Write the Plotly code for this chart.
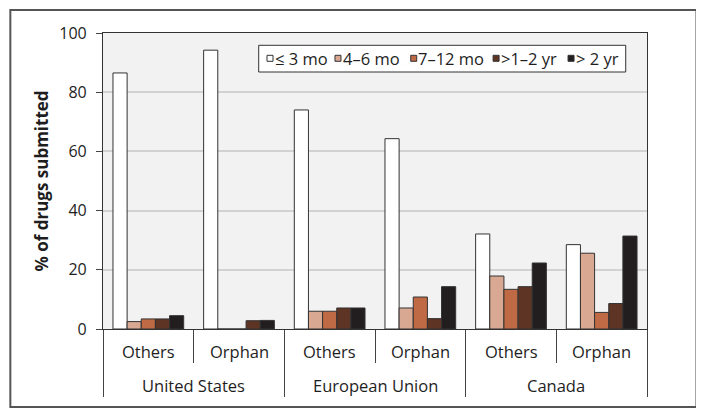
import plotly.graph_objects as go

regions = ["United States", "European Union", "Canada"]
drug_types = ["Others", "Orphan", "Others", "Orphan", "Others", "Orphan"]
x_pos = [0, 1, 2, 3, 4, 5]

series_names = ["≤ 3 mo", "4–6 mo", "7–12 mo", ">1–2 yr", "> 2 yr"]
le_3mo = [86.5, 94.2, 74.0, 64.3, 32.1, 28.5]
m4_6 = [2.5, 0, 6.0, 7.1, 17.9, 25.6]
m7_12 = [3.4, 0, 6.0, 10.8, 13.4, 5.6]
y1_2 = [3.4, 2.8, 7.1, 3.5, 14.3, 8.6]
gt_2yr = [4.5, 2.9, 7.1, 14.3, 22.3, 31.4]
series_values = [le_3mo, m4_6, m7_12, y1_2, gt_2yr]
colors = ["#ffffff", "#d8a893", "#c06a45", "#5e3424", "#221e1f"]

y_ticks = [0, 20, 40, 60, 80, 100]

FONT = "Open Sans"
TXT = "#1e1e1e"
LINE = "#333333"

# page has an 8px body margin; work in page coordinates and convert
OFF = 8
FIG_W, FIG_H = 704 - OFF, 419 - OFF
PL, PR, PT, PB = 102.7, 647, 33, 329  # plot area in page px
L, T = PL - OFF, PT - OFF
R = 704 - PR
B = 419 - PB
W, H = PR - PL, PB - PT


def px(x):
    return (x - PL) / W


def py(y):
    return (PB - y) / H


fig = go.Figure()
for name, vals, col in zip(series_names, series_values, colors):
    fig.add_trace(go.Bar(
        name=name,
        x=x_pos,
        y=vals,
        marker=dict(color=col, line=dict(color=LINE, width=1)),
        showlegend=False,
    ))

shapes = []
annotations = []

# outer frame
shapes.append(dict(type="rect", xref="paper", yref="paper",
                   x0=px(10), x1=px(696.5), y0=py(407), y1=py(10),
                   line=dict(color="#555555", width=2), fillcolor="rgba(0,0,0,0)", layer="above"))

# category labels (inner row)
for xp, lab in zip(x_pos, drug_types):
    annotations.append(dict(x=xp, y=py(351.5), xref="x", yref="paper", text=lab, showarrow=False,
                            xanchor="center", yanchor="middle",
                            font=dict(family=FONT, size=16.5, color=TXT)))
# region labels (outer row)
for i, lab in enumerate(regions):
    annotations.append(dict(x=2 * i + 0.5, y=py(385), xref="x", yref="paper", text=lab, showarrow=False,
                            xanchor="center", yanchor="middle",
                            font=dict(family=FONT, size=16.5, color=TXT)))

# legend (drawn as a boxed row of swatches + labels)
shapes.append(dict(type="rect", xref="paper", yref="paper",
                   x0=px(258.5), x1=px(625.7), y0=py(72), y1=py(45.3),
                   line=dict(color=LINE, width=1), fillcolor="white", layer="above"))
leg_sym_x = [266.8, 334.8, 410.6, 493, 568]
leg_txt_x = [273.6, 341.5, 417, 499.5, 574.8]
SYM = 6
leg_y = 58.3
for sx, tx, name, col in zip(leg_sym_x, leg_txt_x, series_names, colors):
    shapes.append(dict(type="rect", xref="paper", yref="paper",
                       x0=px(sx), x1=px(sx + SYM), y0=py(leg_y + SYM / 2), y1=py(leg_y - SYM / 2),
                       line=dict(color=LINE, width=1), fillcolor=col, layer="above"))
    annotations.append(dict(x=px(tx), y=py(leg_y + 0.5), xref="paper", yref="paper", text=name,
                            showarrow=False, xanchor="left", yanchor="middle", borderpad=0,
                            font=dict(family=FONT, size=16.5, color=TXT)))

fig.update_layout(
    width=FIG_W, height=FIG_H,
    margin=dict(l=L, r=R, t=T, b=B, pad=0),
    paper_bgcolor="white",
    plot_bgcolor="#f2f2f2",
    barmode="group",
    bargap=0.22,
    bargroupgap=0,
    font=dict(family=FONT, size=16, color=TXT),
    showlegend=False,
    shapes=shapes,
    annotations=annotations,
    xaxis=dict(
        range=[-0.5, 5.5],
        tickvals=[-0.5, 1.5, 3.5, 5.5],
        ticktext=["", "", "", ""],
        ticks="outside", ticklen=67, tickwidth=1.2, tickcolor="#444444",
        minor=dict(tickvals=[0.5, 2.5, 4.5], ticks="outside", ticklen=33,
                   tickwidth=1.2, tickcolor="#444444", showgrid=False),
        showline=True, linecolor=LINE, linewidth=1.2, mirror=True,
        showgrid=False, zeroline=False,
    ),
    yaxis=dict(
        range=[0, 100],
        tickvals=y_ticks,
        showline=True, linecolor=LINE, linewidth=1.2, mirror=True,
        ticks="outside", ticklen=6, tickcolor="#444444", tickwidth=1.2,
        ticklabelstandoff=6,
        showgrid=True, gridcolor="#d2d2d2", gridwidth=1.8,
        zeroline=False,
        tickfont=dict(family=FONT, size=16, color=TXT),
        title=dict(text="<b>% of drugs submitted</b>",
                   font=dict(family=FONT, size=17, color=TXT), standoff=6),
    ),
)

fig.write_html("out.html")
